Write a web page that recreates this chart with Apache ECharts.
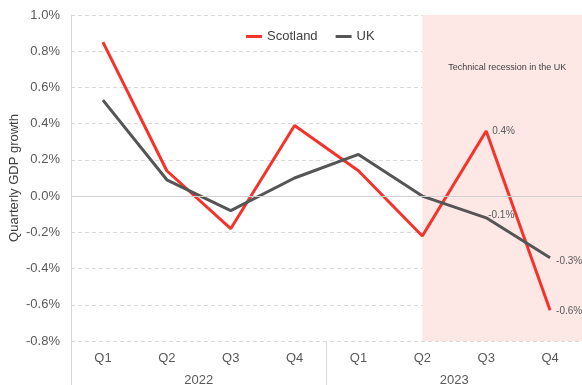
<!DOCTYPE html>
<html><head><meta charset="utf-8">
<script src="https://cdn.jsdelivr.net/npm/echarts@6/dist/echarts.min.js"></script>
<style>html,body{margin:0;padding:0;background:#fff}#c{width:582px;height:385px}</style>
</head><body><div id="c"></div>
<script>
const quarters = ['Q1','Q2','Q3','Q4','Q1','Q2','Q3','Q4'];
const years = ['2022','2023'];
const scotland = [0.85, 0.14, -0.18, 0.39, 0.14, -0.22, 0.36, -0.63];
const uk = [0.53, 0.09, -0.08, 0.10, 0.23, 0.00, -0.12, -0.34];
const scotlandLabelIdx = [6, 7];
const ukLabelIdx = [6, 7];
const recessionStart = 5.5;
const recessionEnd = 8;
const recessionText = 'Technical recession in the UK';

const font = 'Liberation Sans, Arial, sans-serif';
const lblColor = '#595959';
function mk(vals, idxs, offsets) {
  return vals.map((v, i) => {
    const k = idxs.indexOf(i);
    if (k < 0) return v;
    return { value: v, label: { show: true, position: 'right', distance: 6, offset: offsets[k],
      formatter: p => p.value.toFixed(1) + '%', color: lblColor, fontSize: 10, fontFamily: font } };
  });
}
const chart = echarts.init(document.getElementById('c'));
chart.setOption({
  animation: false,
  textStyle: { fontFamily: font },
  grid: { left: 71, right: 0, top: 15, bottom: 44, containLabel: false, outerBoundsMode: 'none' },
  legend: {
    left: 241, top: 25, itemGap: 18, itemWidth: 16, itemHeight: 3,
    textStyle: { color: '#404040', fontSize: 13, fontFamily: font },
    data: [{ name: 'Scotland', icon: 'rect' }, { name: 'UK', icon: 'rect' }]
  },
  xAxis: [
    { type: 'category', data: quarters, boundaryGap: true, position: 'bottom',
      axisLine: { show: false }, axisTick: { show: false },
      axisLabel: { color: lblColor, fontSize: 13, margin: 11, fontFamily: font } },
    { type: 'category', data: years, boundaryGap: true, position: 'bottom',
      axisLine: { show: false },
      axisTick: { show: true, length: 44, lineStyle: { color: '#d9d9d9' } },
      axisLabel: { color: lblColor, fontSize: 13, margin: 33, fontFamily: font } },
    { type: 'value', min: 0, max: 8, show: false }
  ],
  yAxis: {
    type: 'value', min: -0.8, max: 1.0, interval: 0.2,
    name: 'Quarterly GDP growth', nameLocation: 'middle', nameGap: 50, nameMoveOverlap: false,
    nameTextStyle: { color: '#404040', fontSize: 13, fontFamily: font },
    axisLine: { show: true, lineStyle: { color: '#d9d9d9' } },
    axisTick: { show: false },
    axisLabel: { color: lblColor, fontSize: 13, margin: 11, fontFamily: font,
      formatter: v => v.toFixed(1) + '%' },
    splitLine: { show: true, lineStyle: { color: '#d9d9d9', type: [4, 3] } }
  },
  series: [
    { name: 'recession', type: 'line', xAxisIndex: 2, data: [], silent: true,
      markArea: { silent: true, itemStyle: { color: '#fde8e6' },
        label: { show: true, position: 'insideTop', distance: 48, offset: [5, 0], color: '#404040', fontSize: 9, fontFamily: font },
        data: [[{ xAxis: recessionStart, name: recessionText }, { xAxis: recessionEnd }]] } },
    { name: 'zero', type: 'line', data: [], silent: true,
      markLine: { silent: true, symbol: 'none', label: { show: false },
        lineStyle: { color: '#d0d0d0', type: 'solid', width: 1 }, data: [{ yAxis: 0 }] } },
    { name: 'Scotland', type: 'line', data: mk(scotland, scotlandLabelIdx, [[0, 0], [0, 1]]),
      symbol: 'circle', symbolSize: 0, showAllSymbol: true,
      lineStyle: { color: '#f5332a', width: 3 }, itemStyle: { color: '#f5332a' } },
    { name: 'UK', type: 'line', data: mk(uk, ukLabelIdx, [[-4, -3], [0, 4]]),
      symbol: 'circle', symbolSize: 0, showAllSymbol: true,
      lineStyle: { color: '#555555', width: 3 }, itemStyle: { color: '#555555' } }
  ]
});
</script></body></html>
